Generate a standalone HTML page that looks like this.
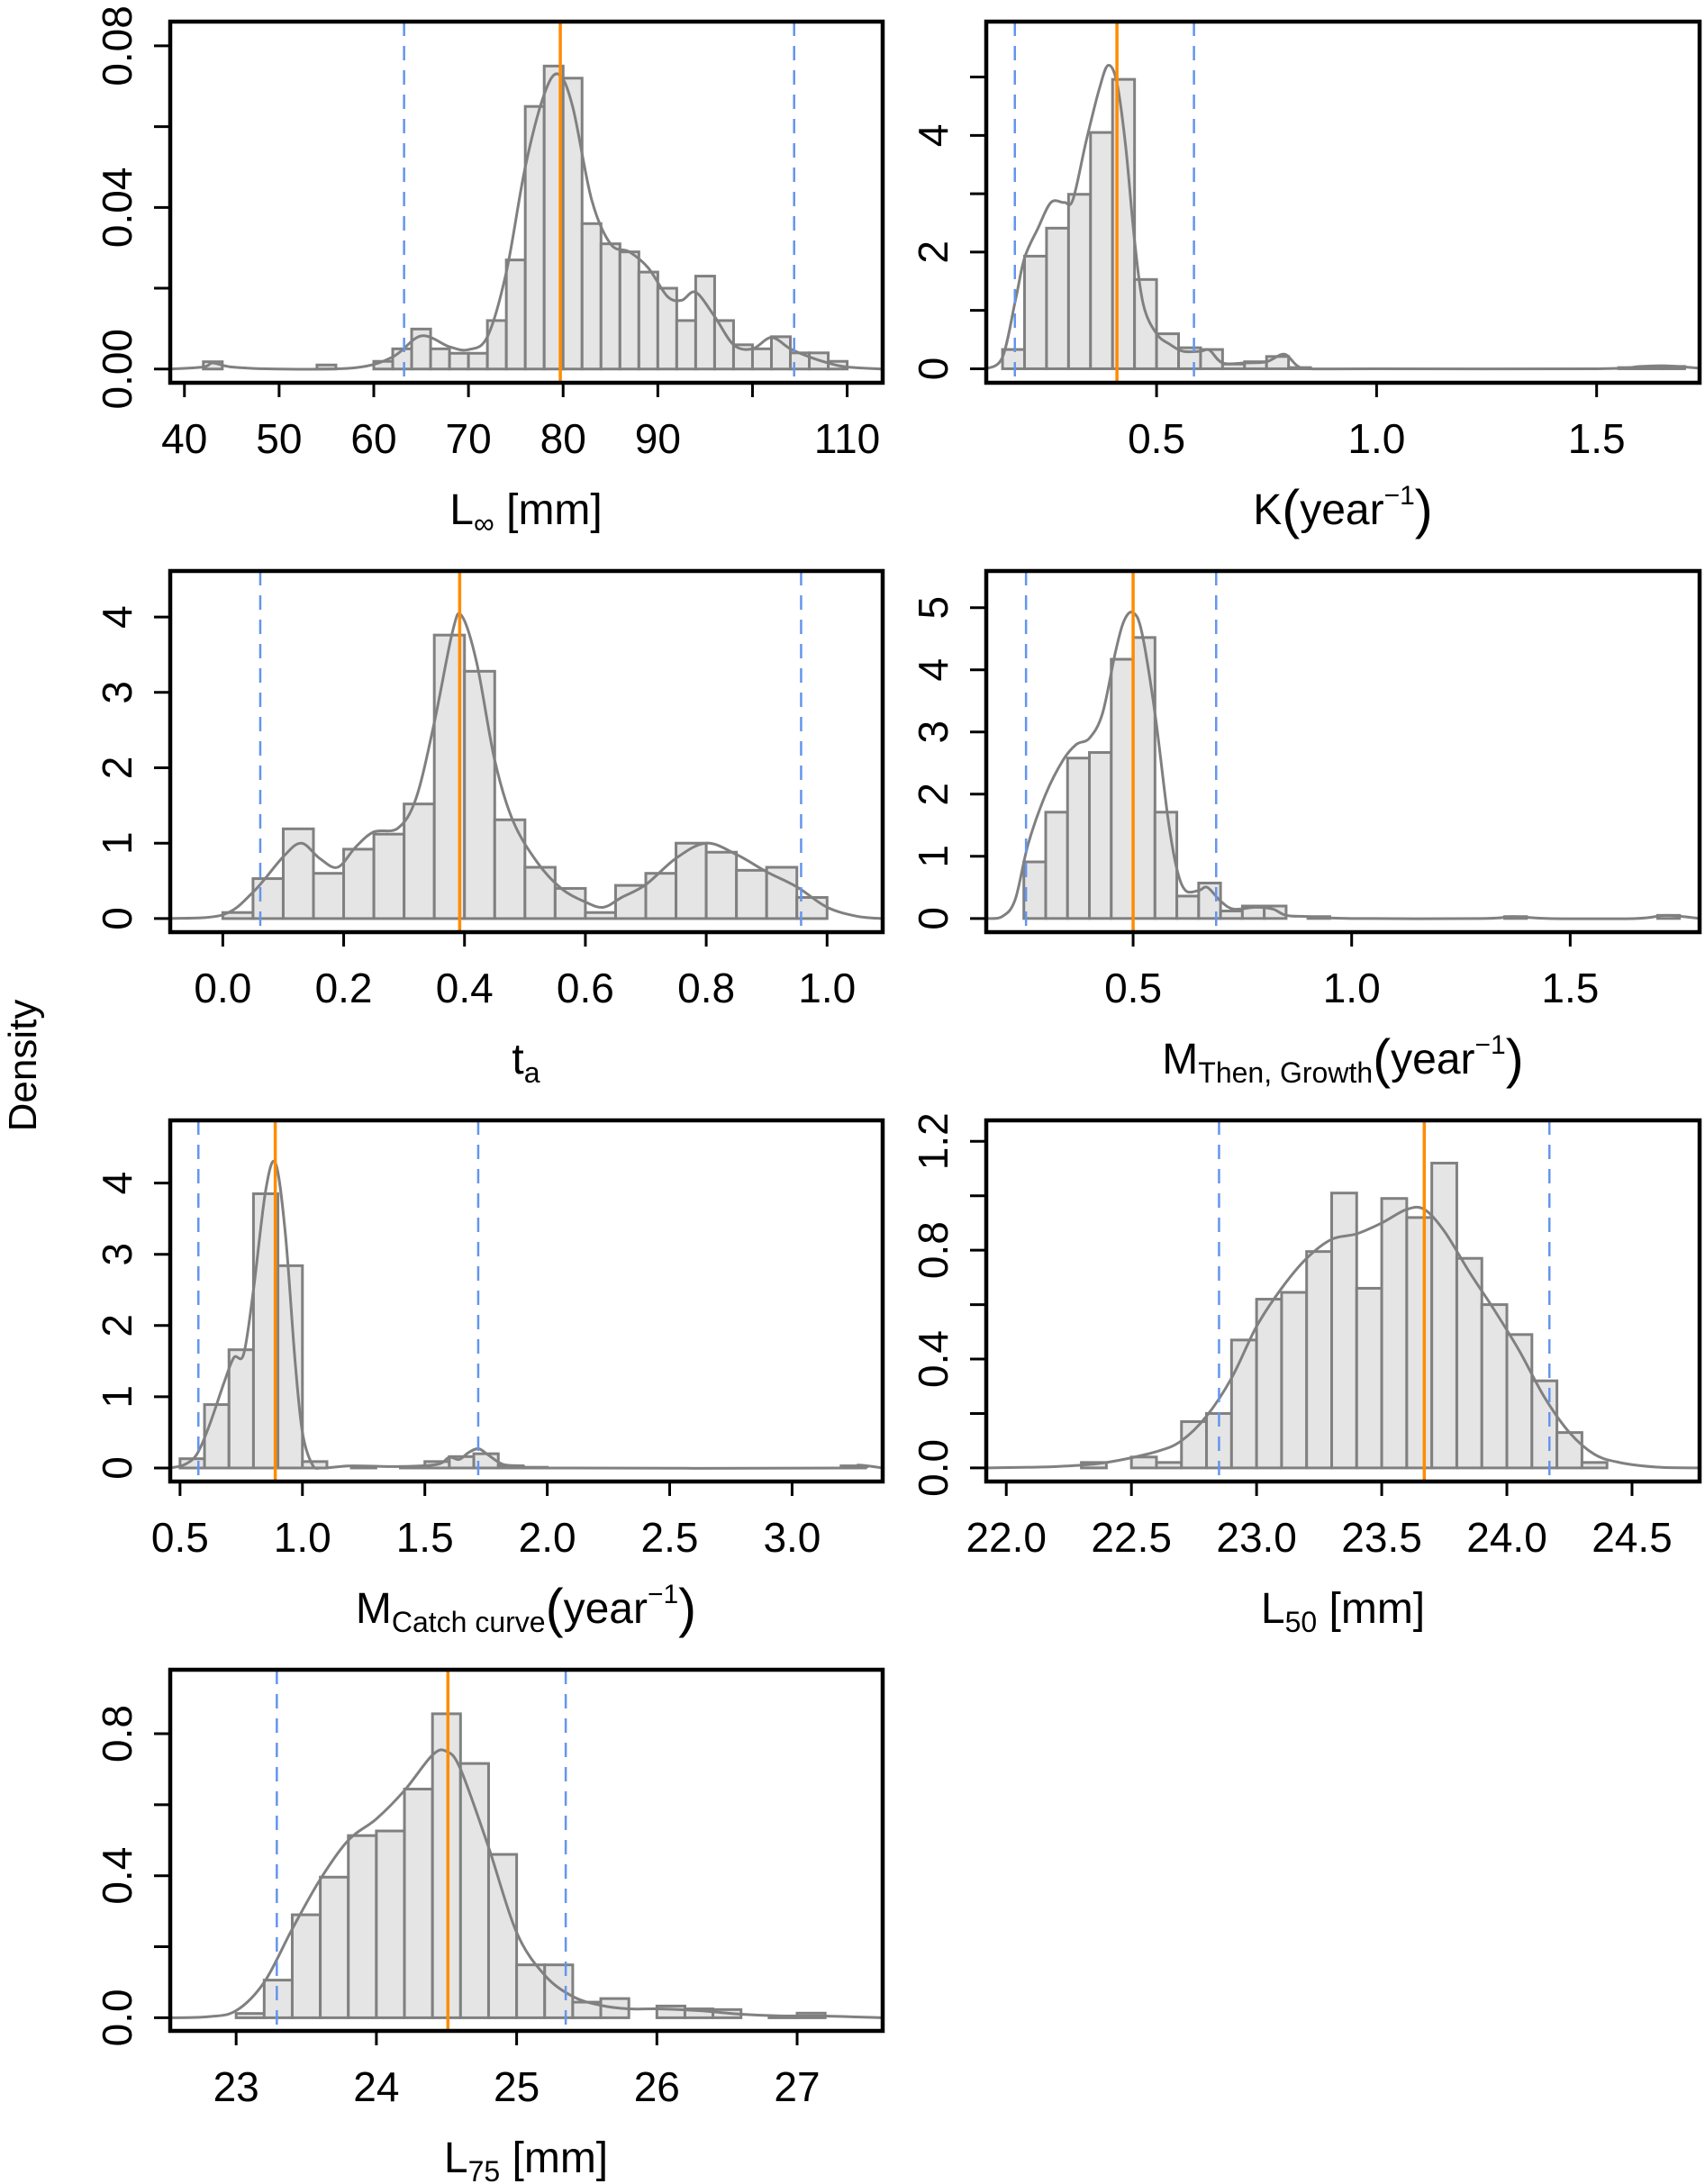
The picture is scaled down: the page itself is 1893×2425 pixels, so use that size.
<!DOCTYPE html>
<html><head><meta charset="utf-8"><style>
html,body{margin:0;padding:0;background:#fff}
svg{display:block}
text{font-family:"Liberation Sans",Arial,sans-serif;fill:#000}
</style></head><body>
<svg id="fig" xmlns="http://www.w3.org/2000/svg" width="1893" height="2425" viewBox="0 0 1893 2425">
<text x="0" y="0" font-size="44" text-anchor="middle" transform="translate(40,1183) rotate(-90)">Density</text>
<g font-size="48" text-anchor="middle">
<text x="584" y="582">L<tspan font-size="32" dy="10">∞</tspan><tspan dy="-10"> [mm]</tspan></text>
<text x="1491" y="582">K<tspan font-size="60" dy="4">(</tspan><tspan dy="-4">year</tspan><tspan font-size="30" dy="-22">−1</tspan><tspan font-size="60" dy="26">)</tspan></text>
<text x="584" y="1192">t<tspan font-size="32" dy="10">a</tspan></text>
<text x="1491" y="1192">M<tspan font-size="32" dy="10">Then, Growth</tspan><tspan font-size="60" dy="-6">(</tspan><tspan dy="-4">year</tspan><tspan font-size="30" dy="-22">−1</tspan><tspan font-size="60" dy="26">)</tspan></text>
<text x="584" y="1802">M<tspan font-size="32" dy="10">Catch curve</tspan><tspan font-size="60" dy="-6">(</tspan><tspan dy="-4">year</tspan><tspan font-size="30" dy="-22">−1</tspan><tspan font-size="60" dy="26">)</tspan></text>
<text x="1491" y="1802">L<tspan font-size="32" dy="10">50</tspan><tspan dy="-10"> [mm]</tspan></text>
<text x="584" y="2412">L<tspan font-size="32" dy="10">75</tspan><tspan dy="-10"> [mm]</tspan></text>
</g>
</svg>
<script>
// ---- data ----
const p1Start = 42, p1Width = 2;
const p1Heights = [0.0018,0,0,0,0,0,0.001,0,0,0.0019,0.005,0.0099,0.005,0.0039,0.0039,0.012,0.027,0.065,0.075,0.072,0.036,0.031,0.029,0.024,0.020,0.012,0.023,0.012,0.006,0.005,0.008,0.004,0.004,0.0019];
const p1CurveX = [38.5,42,43,45,50,58,62,65,68,70,72,74,76,78,79.5,81,83,85,87,89,91,92.5,94,96,98,100,102,104,106,108,110,113.7];
const p1CurveY = [0,0.0005,0.0015,0.0005,0,0.0003,0.003,0.0082,0.0055,0.0048,0.008,0.024,0.05,0.068,0.073,0.065,0.042,0.031,0.029,0.025,0.018,0.017,0.019,0.013,0.006,0.005,0.0078,0.005,0.003,0.0015,0.0005,0];
const p1Median = 79.7, p1CI = [63.2,104.4];
const p1XTicks = [40,50,60,70,80,90,100,110];
const p1XLabels = ["40","50","60","70","80","90","","110"];
const p1YTicks = [0,0.02,0.04,0.06,0.08];
const p1YLabels = ["0.00","","0.04","","0.08"];

const p2Start = 0.15, p2Width = 0.05;
const p2Heights = [0.33,1.93,2.41,2.99,4.05,4.96,1.53,0.60,0.36,0.33,0.08,0.12,0.21,0.02,0,0,0,0,0,0,0,0,0,0,0,0,0,0,0.02,0.03,0.04];
const p2CurveX = [0.113,0.15,0.18,0.2,0.23,0.26,0.29,0.31,0.34,0.37,0.39,0.41,0.43,0.45,0.47,0.50,0.53,0.56,0.6,0.62,0.65,0.7,0.75,0.79,0.82,0.85,1.0,1.5,1.6,1.66,1.734];
const p2CurveY = [0,0.2,1.2,1.9,2.4,2.85,2.85,2.9,3.9,4.8,5.2,4.9,3.8,2.2,1.1,0.6,0.42,0.3,0.3,0.32,0.1,0.1,0.12,0.25,0.05,0,0,0,0.04,0.05,0.01];
const p2Median = 0.41, p2CI = [0.178,0.585];
const p2XTicks = [0.5,1.0,1.5];
const p2XLabels = ["0.5","1.0","1.5"];
const p2YTicks = [0,1,2,3,4,5];
const p2YLabels = ["0","","2","","4",""];

const p3Start = 0, p3Width = 0.05;
const p3Heights = [0.08,0.53,1.19,0.60,0.92,1.12,1.52,3.76,3.28,1.31,0.68,0.40,0.08,0.44,0.60,1.00,0.88,0.64,0.68,0.28];
const p3CurveX = [-0.087,0,0.05,0.1,0.13,0.16,0.19,0.22,0.25,0.29,0.32,0.35,0.38,0.395,0.42,0.45,0.48,0.52,0.56,0.6,0.63,0.66,0.7,0.75,0.8,0.85,0.9,0.95,1.0,1.05,1.092];
const p3CurveY = [0,0.05,0.35,0.82,1.0,0.8,0.68,0.95,1.15,1.2,1.6,2.6,3.8,4.02,3.4,2.1,1.3,0.75,0.4,0.22,0.15,0.28,0.45,0.8,1.0,0.85,0.62,0.42,0.15,0.03,0];
const p3Median = 0.392, p3CI = [0.062,0.957];
const p3XTicks = [0,0.2,0.4,0.6,0.8,1.0];
const p3XLabels = ["0.0","0.2","0.4","0.6","0.8","1.0"];
const p3YTicks = [0,1,2,3,4];
const p3YLabels = ["0","1","2","3","4"];

const p4Start = 0.25, p4Width = 0.05;
const p4Heights = [0.91,1.71,2.58,2.67,4.17,4.52,1.71,0.36,0.57,0.12,0.2,0.2,0,0.03,0,0,0,0,0,0,0,0,0.03,0,0,0,0,0,0,0.05];
const p4CurveX = [0.164,0.2,0.23,0.26,0.3,0.34,0.37,0.4,0.43,0.46,0.48,0.5,0.52,0.55,0.58,0.6,0.62,0.65,0.67,0.7,0.73,0.78,0.82,0.85,0.9,1.0,1.3,1.37,1.45,1.65,1.72,1.796];
const p4CurveY = [0,0.03,0.3,1.2,2.0,2.55,2.8,2.9,3.3,4.3,4.8,4.92,4.6,3.3,1.6,0.8,0.45,0.45,0.5,0.28,0.15,0.18,0.15,0.05,0.03,0,0,0.03,0,0,0.05,0];
const p4Median = 0.50, p4CI = [0.255,0.69];
const p4XTicks = [0.5,1.0,1.5];
const p4XLabels = ["0.5","1.0","1.5"];
const p4YTicks = [0,1,2,3,4,5];
const p4YLabels = ["0","1","2","3","4","5"];

const p5Start = 0.5, p5Width = 0.1;
const p5Heights = [0.13,0.89,1.66,3.85,2.84,0.09,0,0.02,0,0.02,0.09,0.16,0.2,0.03,0.01,0,0,0,0,0,0,0,0,0,0,0,0,0.03];
const p5CurveX = [0.46,0.52,0.57,0.62,0.68,0.72,0.76,0.8,0.85,0.89,0.93,0.97,1.0,1.04,1.08,1.2,1.4,1.55,1.6,1.64,1.68,1.72,1.76,1.82,1.9,2.0,3.2,3.27,3.37];
const p5CurveY = [0,0.05,0.2,0.6,1.2,1.55,1.6,2.5,3.9,4.28,3.3,1.5,0.5,0.05,0,0.03,0.02,0.05,0.15,0.12,0.22,0.27,0.18,0.05,0.03,0,0,0.04,0];
const p5Median = 0.889, p5CI = [0.575,1.718];
const p5XTicks = [0.5,1.0,1.5,2.0,2.5,3.0];
const p5XLabels = ["0.5","1.0","1.5","2.0","2.5","3.0"];
const p5YTicks = [0,1,2,3,4];
const p5YLabels = ["0","1","2","3","4"];

const p6Start = 22.3, p6Width = 0.1;
const p6Heights = [0.02,0,0.04,0.02,0.17,0.20,0.47,0.62,0.645,0.795,1.01,0.66,0.99,0.92,1.12,0.77,0.60,0.49,0.32,0.13,0.02];
const p6CurveX = [21.92,22.2,22.4,22.6,22.7,22.8,22.9,23.0,23.1,23.2,23.3,23.4,23.5,23.6,23.67,23.75,23.85,23.95,24.05,24.15,24.25,24.35,24.45,24.6,24.77];
const p6CurveY = [0,0.005,0.02,0.06,0.1,0.19,0.33,0.52,0.66,0.77,0.84,0.86,0.9,0.95,0.95,0.87,0.72,0.58,0.43,0.26,0.13,0.05,0.02,0.003,0];
const p6Median = 23.67, p6CI = [22.85,24.17];
const p6XTicks = [22.0,22.5,23.0,23.5,24.0,24.5];
const p6XLabels = ["22.0","22.5","23.0","23.5","24.0","24.5"];
const p6YTicks = [0,0.2,0.4,0.6,0.8,1.0,1.2];
const p6YLabels = ["0.0","","0.4","","0.8","","1.2"];

const p7Start = 23.0, p7Width = 0.2;
const p7Heights = [0.012,0.106,0.29,0.396,0.513,0.526,0.644,0.856,0.716,0.46,0.149,0.149,0.044,0.054,0,0.033,0.025,0.023,0,0.005,0.013];
const p7CurveX = [22.53,22.8,23.0,23.2,23.4,23.6,23.8,24.0,24.2,24.4,24.5,24.6,24.8,25.0,25.2,25.4,25.6,25.8,26.0,26.3,26.6,26.9,27.2,27.61];
const p7CurveY = [0,0.003,0.02,0.1,0.25,0.39,0.5,0.56,0.64,0.74,0.75,0.7,0.48,0.24,0.12,0.06,0.035,0.025,0.025,0.02,0.01,0.005,0.005,0];
const p7Median = 24.51, p7CI = [23.29,25.35];
const p7XTicks = [23,24,25,26,27];
const p7XLabels = ["23","24","25","26","27"];
const p7YTicks = [0,0.2,0.4,0.6,0.8];
const p7YLabels = ["0.0","","0.4","","0.8"];

// ---- layout (pixels + domains) ----
const NS = "http://www.w3.org/2000/svg";
const svg = document.getElementById('fig');
function mk(tag, attrs, parent){ const e=document.createElementNS(NS,tag); for(const k in attrs) e.setAttribute(k,attrs[k]); parent.appendChild(e); return e; }

function panel(id, box, xd, yd, start, width, heights, cx, cy, median, ci, xt, xl, yt, yl){
  const g = mk('g',{},svg);
  
  
  const [L,T,R,B] = box;
  const X = v => L + (v - xd[0])/(xd[1]-xd[0])*(R-L);
  const Y = v => B - (v - yd[0])/(yd[1]-yd[0])*(B-T);
  const clip = mk('clipPath',{id:id+'-clip'},g);
  mk('rect',{x:L,y:T,width:R-L,height:B-T},clip);
  const inner = mk('g',{'clip-path':'url(#'+id+'-clip)'},g);
  // bars
  heights.forEach((h,i)=>{
    const x0 = X(start + i*width), x1 = X(start + (i+1)*width);
    const r = mk('rect',{x:x0,y:Y(h),width:x1-x0,height:Math.max(0,Y(0)-Y(h)),fill:'#e5e5e5',stroke:'#808080','stroke-width':3},inner);
    
    
  });
  // density curve (Catmull-Rom)
  const pts = cx.map((v,i)=>[X(v),Y(cy[i])]);
  let d = 'M'+pts[0][0]+','+pts[0][1];
  for(let i=0;i<pts.length-1;i++){
    const p0=pts[Math.max(0,i-1)], p1=pts[i], p2=pts[i+1], p3=pts[Math.min(pts.length-1,i+2)];
    const c1=[p1[0]+(p2[0]-p0[0])/6, p1[1]+(p2[1]-p0[1])/6];
    const c2=[p2[0]-(p3[0]-p1[0])/6, p2[1]-(p3[1]-p1[1])/6];
    d += ' C'+c1[0]+','+c1[1]+' '+c2[0]+','+c2[1]+' '+p2[0]+','+p2[1];
  }
  const path = mk('path',{d:d,fill:'none',stroke:'#808080','stroke-width':3},inner);
  
  
  ci.forEach(v=>{
    const l = mk('line',{x1:X(v),x2:X(v),y1:T,y2:B,stroke:'#6495ed','stroke-width':2.5,'stroke-dasharray':'16 11'},inner);
    
    
  });
  const m = mk('line',{x1:X(median),x2:X(median),y1:T,y2:B,stroke:'#ff8c00','stroke-width':3.5},inner);
  
  
  // box
  const bx = mk('rect',{x:L,y:T,width:R-L,height:B-T,fill:'none',stroke:'#000','stroke-width':4.5},g);
  
  
  // x ticks
  xt.forEach((v,i)=>{
    mk('line',{x1:X(v),x2:X(v),y1:B,y2:B+16,stroke:'#000','stroke-width':3},g);
    if(xl[i]){
      const t = mk('text',{x:X(v),y:B+78,'font-size':46,'text-anchor':'middle'},g);
      t.textContent = xl[i];
      
      
    }
  });
  // y ticks
  yt.forEach((v,i)=>{
    mk('line',{x1:L-18,x2:L,y1:Y(v),y2:Y(v),stroke:'#000','stroke-width':3},g);
    if(yl[i]){
      const t = mk('text',{x:0,y:0,'font-size':46,'text-anchor':'middle',transform:'translate('+(L-43)+','+Y(v)+') rotate(-90)'},g);
      t.textContent = yl[i];
      
      
    }
  });
}
const LC=[189,980], RC=[1095,1887];
const rows=[[24,425],[634,1035],[1244,1645],[1854,2255]];
panel('panel-linf',[LC[0],rows[0][0],LC[1],rows[0][1]],[38.5,113.75],[-0.0034,0.086],p1Start,p1Width,p1Heights,p1CurveX,p1CurveY,p1Median,p1CI,p1XTicks,p1XLabels,p1YTicks,p1YLabels);
panel('panel-k',[RC[0],rows[0][0],RC[1],rows[0][1]],[0.113,1.734],[-0.24,5.95],p2Start,p2Width,p2Heights,p2CurveX,p2CurveY,p2Median,p2CI,p2XTicks,p2XLabels,p2YTicks,p2YLabels);
panel('panel-ta',[LC[0],rows[1][0],LC[1],rows[1][1]],[-0.087,1.092],[-0.18,4.61],p3Start,p3Width,p3Heights,p3CurveX,p3CurveY,p3Median,p3CI,p3XTicks,p3XLabels,p3YTicks,p3YLabels);
panel('panel-m-then',[RC[0],rows[1][0],RC[1],rows[1][1]],[0.164,1.796],[-0.22,5.59],p4Start,p4Width,p4Heights,p4CurveX,p4CurveY,p4Median,p4CI,p4XTicks,p4XLabels,p4YTicks,p4YLabels);
panel('panel-m-catch',[LC[0],rows[2][0],LC[1],rows[2][1]],[0.46,3.37],[-0.19,4.88],p5Start,p5Width,p5Heights,p5CurveX,p5CurveY,p5Median,p5CI,p5XTicks,p5XLabels,p5YTicks,p5YLabels);
panel('panel-l50',[RC[0],rows[2][0],RC[1],rows[2][1]],[21.92,24.77],[-0.05,1.277],p6Start,p6Width,p6Heights,p6CurveX,p6CurveY,p6Median,p6CI,p6XTicks,p6XLabels,p6YTicks,p6YLabels);
panel('panel-l75',[LC[0],rows[3][0],LC[1],rows[3][1]],[22.53,27.61],[-0.037,0.98],p7Start,p7Width,p7Heights,p7CurveX,p7CurveY,p7Median,p7CI,p7XTicks,p7XLabels,p7YTicks,p7YLabels);
</script>
</body></html>
